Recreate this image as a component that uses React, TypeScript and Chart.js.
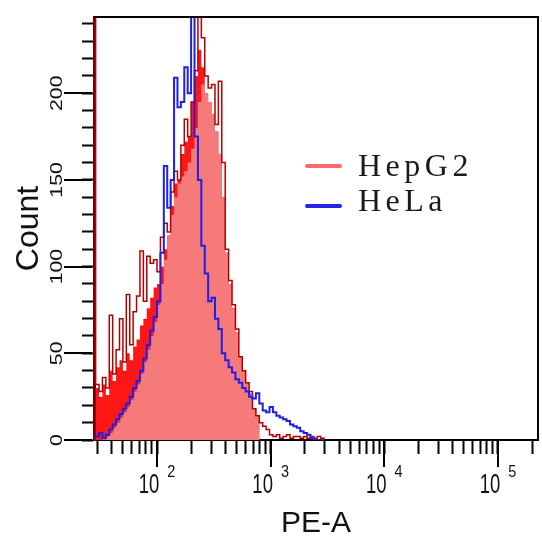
import React, { useEffect, useRef } from 'react';
import { Chart, registerables } from 'chart.js';

Chart.register(...registerables);

// Channel positions (PE-A values, left edge of each histogram bin)
const channels = [
  28.2, 28.84, 30.9, 33.11, 35.48, 38.02, 40.74, 43.65, 46.77, 50.12, 53.7,
  57.54, 61.66, 66.07, 70.79, 75.86, 81.28, 87.1, 93.33, 100, 107.2,
  114.8, 123.0, 131.8, 141.3, 151.4, 162.2, 173.8, 186.2, 199.5, 213.8,
  229.1, 245.5, 263.0, 281.8, 302.0, 323.6, 346.7, 371.5, 398.1, 426.6,
  457.1, 489.8, 524.8, 562.3, 602.6, 645.7, 691.8, 741.3, 794.3, 851.1,
  912.0, 977.2, 1047, 1122, 1202, 1288, 1380, 1479, 1585, 1698,
  1820, 1950, 2089, 2239, 2399, 2570, 2754, 2951,
];

// HepG2 counts (spiky histogram outline)
const hepg2Counts = [
  400,
  32, 28, 36, 30, 72, 38, 52, 70, 45, 84,
  55, 74, 83, 109, 80, 106, 102, 104, 97, 117,
  125, 120, 143, 155, 150, 170, 185, 175, 195, 213,
  244, 232, 210, 203, 205, 182, 207, 160, 110, 92,
  78, 64, 48, 40, 33, 28, 18, 14, 10, 8,
  6, 3, 2, 3, 1, 2, 3, 1, 2, 2,
  1, 2, 1, 2, 1, 2, 1, 0,
];

// HepG2 dense core (bright red mass under the spikes)
const hepg2Dense = [
  0,
  30, 25, 32, 26, 40, 34, 42, 46, 40, 50,
  46, 54, 58, 66, 70, 76, 82, 88, 90, 100,
  110, 118, 135, 148, 150, 165, 172, 175, 195, 210,
  225, 215, 200, 195, 188, 178, 165, 140, 108, 90,
  76, 62, 48, 40, 33, 27, 18, 14, 0, 0,
  0, 0, 0, 0, 0, 0, 0, 0, 0, 0,
  0, 0, 0, 0, 0, 0, 0, 0,
];

// HepG2 shaded area (smooth filled envelope)
const hepg2Area = [
  0,
  0, 0, 1, 2, 4, 7, 10, 13, 16, 19,
  23, 28, 32, 38, 45, 52, 60, 68, 78, 90,
  104, 118, 130, 140, 148, 152, 155, 160, 168, 180,
  195, 205, 200, 195, 188, 178, 165, 140, 108, 90,
  76, 62, 48, 40, 33, 27, 18, 14, 0, 0,
  0, 0, 0, 0, 0, 0, 0, 0, 0, 0,
  0, 0, 0, 0, 0, 0, 0, 0,
];

// HeLa counts (blue histogram)
const helaCounts = [
  2,
  2, 4, 1, 3, 6, 9, 12, 15, 18, 21,
  25, 30, 34, 40, 47, 55, 63, 71, 80, 108,
  158, 134, 150, 209, 192, 195, 215, 200, 244, 175,
  150, 112, 96, 80, 82, 70, 64, 50, 46, 42,
  39, 35, 33, 30, 28, 25, 24, 27, 21, 17,
  16, 19, 16, 14, 13, 12, 11, 9, 8, 7,
  5, 4, 3, 1, 0, 0, 0, 0,
];

const xMajorTicks = [100, 1000, 10000, 100000];
const xMajorExponents = ['2', '3', '4', '5'];
const xMinorTicks = [
  30, 40, 50, 60, 70, 80, 90,
  200, 300, 400, 500, 600, 700, 800, 900,
  2000, 3000, 4000, 5000, 6000, 7000, 8000, 9000,
  20000, 30000, 40000, 50000, 60000, 70000, 80000, 90000,
  200000,
];
const yTicks = [0, 10, 20, 30, 40, 50, 60, 70, 80, 90, 100, 110, 120, 130, 140, 150, 160, 170, 180, 190, 200, 210, 220, 230, 240];
const yLabelTicks = [0, 50, 100, 150, 200];

const legendLabels = ['HepG2', 'HeLa'];
const legendColors = ['#ff6b6b', '#2424e8'];
const xTitle = 'PE-A';
const yTitle = 'Count';

const SANS = '"Liberation Sans", Arial, sans-serif';
const SERIF = '"Liberation Serif", "Times New Roman", serif';

const decorPlugin = {
  id: 'decor',
  afterDraw(chart: any) {
    const { ctx, chartArea: a, scales } = chart;
    const xs = scales.x;
    const ys = scales.y;
    ctx.save();
    // frame top / right
    ctx.strokeStyle = '#000';
    ctx.lineWidth = 2;
    ctx.beginPath();
    ctx.moveTo(a.left, a.top);
    ctx.lineTo(a.right, a.top);
    ctx.lineTo(a.right, a.bottom);
    ctx.stroke();

    // major tick extensions
    ctx.beginPath();
    xMajorTicks.forEach((v) => {
      const px = Math.round(xs.getPixelForValue(v));
      ctx.moveTo(px, a.bottom);
      ctx.lineTo(px, a.bottom + 27);
    });
    yLabelTicks.forEach((v) => {
      const py = Math.round(ys.getPixelForValue(v));
      ctx.moveTo(a.left - 2, py);
      ctx.lineTo(a.left - 30, py);
    });
    ctx.stroke();

    ctx.fillStyle = '#111';
    ctx.textBaseline = 'alphabetic';

    // y tick labels (rotated)
    ctx.font = `17px ${SANS}`;
    ctx.textAlign = 'center';
    yLabelTicks.forEach((v) => {
      const py = ys.getPixelForValue(v);
      ctx.save();
      ctx.translate(a.left - 32, py);
      ctx.rotate(-Math.PI / 2);
      ctx.scale(1.25, 1);
      ctx.fillText(String(v), 0, 0);
      ctx.restore();
    });

    // x tick labels 10^n
    ctx.textAlign = 'left';
    xMajorTicks.forEach((v, i) => {
      const px = xs.getPixelForValue(v);
      const exp = xMajorExponents[i];
      ctx.font = `28px ${SANS}`;
      const wBase = ctx.measureText('10').width * 0.66;
      ctx.font = `17px ${SANS}`;
      const wExp = ctx.measureText(exp).width * 0.85;
      const gap = 8;
      const start = px - (wBase + gap + wExp) / 2;
      ctx.save();
      ctx.translate(start, a.bottom + 53);
      ctx.scale(0.66, 1);
      ctx.font = `28px ${SANS}`;
      ctx.fillText('10', 0, 0);
      ctx.restore();
      ctx.save();
      ctx.translate(start + wBase + gap, a.bottom + 37);
      ctx.scale(0.85, 1);
      ctx.font = `17px ${SANS}`;
      ctx.fillText(exp, 0, 0);
      ctx.restore();
    });

    // axis titles
    ctx.textAlign = 'center';
    ctx.font = `30px ${SANS}`;
    ctx.fillText(xTitle, (a.left + a.right) / 2, a.bottom + 92);
    ctx.save();
    ctx.translate(38, (a.top + a.bottom) / 2);
    ctx.rotate(-Math.PI / 2);
    ctx.font = `32px ${SANS}`;
    ctx.fillText(yTitle, 0, 0);
    ctx.restore();

    // legend
    const lineY = [166, 206];
    const textY = [176, 211];
    legendLabels.forEach((label, i) => {
      ctx.strokeStyle = legendColors[i];
      ctx.lineWidth = 4;
      ctx.lineCap = 'round';
      ctx.beginPath();
      ctx.moveTo(307, lineY[i]);
      ctx.lineTo(340, lineY[i]);
      ctx.stroke();
      ctx.fillStyle = '#1a1a1a';
      ctx.font = `32px ${SERIF}`;
      ctx.textAlign = 'left';
      (ctx as any).letterSpacing = '4.5px';
      ctx.fillText(label, 358, textY[i]);
      (ctx as any).letterSpacing = '0px';
    });
    ctx.restore();
  },
};

export default function App() {
  const canvasRef = useRef<HTMLCanvasElement | null>(null);

  useEffect(() => {
    document.body.style.margin = '0';
    const canvas = canvasRef.current;
    if (!canvas) return;
    const toPoints = (arr: number[]) => channels.map((x, i) => ({ x, y: arr[i] }));
    const chart = new Chart(canvas, {
      type: 'line',
      data: {
        datasets: [
          {
            label: 'HeLa',
            data: toPoints(helaCounts),
            borderColor: '#1f1fe6',
            borderWidth: 2,
            pointRadius: 0,
            stepped: true,
            fill: false,
            order: 0,
          },
          {
            label: 'HepG2',
            data: toPoints(hepg2Counts),
            borderColor: '#b40000',
            borderWidth: 1.5,
            pointRadius: 0,
            stepped: true,
            fill: false,
            order: 1,
          },
          {
            label: 'HepG2 area',
            data: toPoints(hepg2Area),
            borderColor: 'transparent',
            backgroundColor: 'rgb(247,122,122)',
            borderWidth: 0,
            pointRadius: 0,
            stepped: true,
            fill: 'origin',
            order: 2,
          },
          {
            label: 'HepG2 dense',
            data: toPoints(hepg2Dense),
            borderColor: 'transparent',
            backgroundColor: '#ff1616',
            borderWidth: 0,
            pointRadius: 0,
            stepped: true,
            fill: 'origin',
            order: 3,
          },
        ],
      },
      options: {
        responsive: false,
        animation: false,
        events: [],
        layout: { padding: { top: 17, right: 4, left: 0, bottom: 0 } },
        plugins: {
          legend: { display: false },
          tooltip: { enabled: false },
          title: { display: false },
        },
        scales: {
          x: {
            type: 'logarithmic',
            min: 27.9,
            max: 225000,
            afterBuildTicks: (s: any) => {
              s.ticks = [...xMinorTicks, ...xMajorTicks].sort((p, q) => p - q).map((v) => ({ value: v }));
            },
            afterFit: (s: any) => {
              s.height = 99;
            },
            ticks: { display: false },
            grid: {
              display: true,
              drawOnChartArea: false,
              drawTicks: true,
              tickLength: 14,
              tickWidth: 2,
              tickColor: '#000',
            },
            border: { display: true, color: '#000', width: 2 },
          },
          y: {
            type: 'linear',
            min: 0,
            max: 244,
            afterBuildTicks: (s: any) => {
              s.ticks = yTicks.map((v) => ({ value: v }));
            },
            afterFit: (s: any) => {
              s.width = 94;
            },
            ticks: { display: false },
            grid: {
              display: true,
              drawOnChartArea: false,
              drawTicks: true,
              tickLength: 12,
              tickWidth: 2,
              tickColor: '#000',
            },
            border: { display: true, color: '#700000', width: 3 },
          },
        },
      } as any,
      plugins: [decorPlugin],
    });
    return () => chart.destroy();
  }, []);

  return (
    <div style={{ width: 542, height: 539, background: '#fff' }}>
      <canvas ref={canvasRef} width={542} height={539} style={{ display: 'block' }} />
    </div>
  );
}
